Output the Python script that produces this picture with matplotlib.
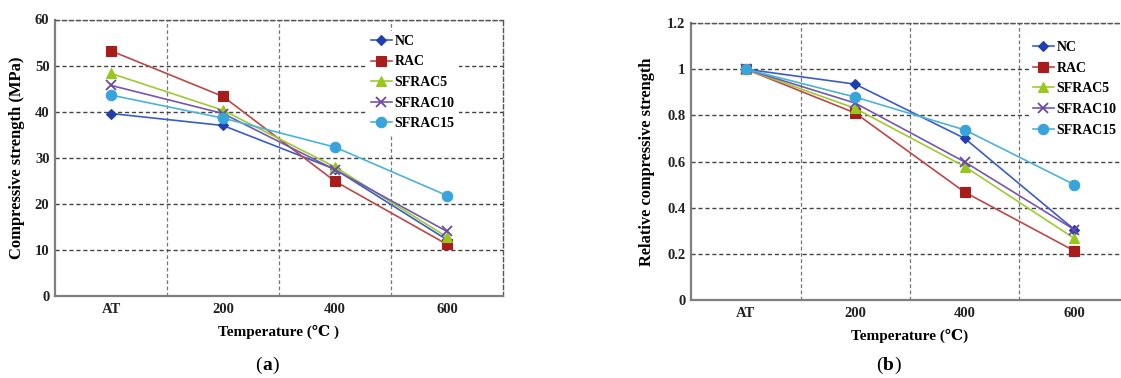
import matplotlib.pyplot as plt
import numpy as np

# data
categories = ['AT', '200', '400', '600']
series = ['NC', 'RAC', 'SFRAC5', 'SFRAC10', 'SFRAC15']

strength_nc = [39.6, 37.0, 27.5, 12.2]
strength_rac = [53.2, 43.3, 24.9, 11.2]
strength_sf5 = [48.3, 40.3, 28.0, 12.8]
strength_sf10 = [45.7, 39.6, 27.4, 14.0]
strength_sf15 = [43.6, 38.6, 32.3, 21.8]

rel_nc = [1.0, 0.935, 0.70, 0.305]
rel_rac = [1.0, 0.81, 0.467, 0.213]
rel_sf5 = [1.0, 0.83, 0.578, 0.267]
rel_sf10 = [1.0, 0.853, 0.598, 0.305]
rel_sf15 = [1.0, 0.879, 0.737, 0.50]

line_colors = ['#3a5cc8', '#c04646', '#9ccc2e', '#7656b0', '#4ab4d8']
marker_colors = ['#1f3fb0', '#a81c1c', '#98c81a', '#6a48a8', '#38a4dc']
markers = ['D', 's', '^', 'x', 'o']
msizes = [5, 7, 7, 7, 7.5]

serif = ['Liberation Serif', 'DejaVu Serif', 'Noto Sans CJK SC']
plt.rcParams['font.family'] = serif

fig = plt.figure(figsize=(11.21, 3.78), dpi=100)
ax1 = fig.add_axes([55 / 1121, 82 / 378, 448 / 1121, 276.5 / 378])
ax2 = fig.add_axes([691 / 1121, 78 / 378, 438 / 1121, 277 / 378])


def style(ax, ymax, ystep, yticklabels):
    ax.set_xlim(-0.5, 3.5)
    ax.set_ylim(0, ymax)
    ax.set_xticks(range(len(categories)))
    ax.set_xticklabels(categories, fontsize=10.5, fontweight='bold', color='#222')
    ax.set_xticks([0.5, 1.5, 2.5], minor=True)
    yt = np.arange(0, ymax + ystep / 2, ystep)
    ax.set_yticks(yt)
    ax.set_yticklabels(yticklabels, fontsize=10.5, fontweight='bold', color='#222')
    ax.tick_params(which='both', length=0)
    ax.tick_params(axis='y', pad=4)
    ax.tick_params(axis='x', pad=5)
    ax.grid(axis='y', which='major', color='#444444', linestyle=(0, (3, 2)), linewidth=1.0)
    ax.grid(axis='x', which='minor', color='#777777', linestyle=(0, (3, 2)), linewidth=0.9)
    ax.set_axisbelow(True)
    for s in ['left', 'bottom']:
        ax.spines[s].set_color('#7f7f7f')
        ax.spines[s].set_linewidth(1.6)
    for s in ['top', 'right']:
        ax.spines[s].set_color('#555555')
        ax.spines[s].set_linestyle((0, (3, 2)))
        ax.spines[s].set_linewidth(1.0)


x = np.arange(len(categories))

left_data = [strength_nc, strength_rac, strength_sf5, strength_sf10, strength_sf15]
right_data = [rel_nc, rel_rac, rel_sf5, rel_sf10, rel_sf15]

for ax, data in [(ax1, left_data), (ax2, right_data)]:
    for name, vals, lc, mc, m, ms in zip(series, data, line_colors, marker_colors, markers, msizes):
        ax.plot(x, vals, color=lc, linewidth=1.2, marker=m, markersize=ms,
                markerfacecolor=mc, markeredgecolor=mc, markeredgewidth=1.3 if m == 'x' else 0.8,
                label=name, zorder=3)

style(ax1, 60, 10, ['0', '10', '20', '30', '40', '50', '60'])
style(ax2, 1.2, 0.2, ['0', '0.2', '0.4', '0.6', '0.8', '1', '1.2'])

ax1.set_ylabel('Compressive strength (MPa)', fontsize=12, fontweight='bold', labelpad=7)
ax1.set_xlabel('Temperature (℃ )', fontsize=11, fontweight='bold', labelpad=6)
ax2.set_ylabel('Relative compressive strength', fontsize=11.8, fontweight='bold', labelpad=9)
ax2.set_xlabel('Temperature (℃)', fontsize=11, fontweight='bold', labelpad=6)

for ax, anchor in [(ax1, (0.68, 0.985)), (ax2, (0.755, 0.975))]:
    leg = ax.legend(loc='upper left', bbox_to_anchor=anchor,
                    prop={'family': serif, 'weight': 'bold', 'size': 10},
                    frameon=True, fancybox=False, borderpad=0.3,
                    handlelength=1.5, handletextpad=0.2, labelspacing=0.55)
    leg.get_frame().set_facecolor('white')
    leg.get_frame().set_edgecolor('none')
    leg.get_frame().set_alpha(1)

fig.text(262 / 1121, 1 - 365 / 378, '(', fontsize=14, ha='right', va='center')
fig.text(262 / 1121, 1 - 365 / 378, 'a', fontsize=14, fontweight='bold', ha='left', va='center')
fig.text(262 / 1121 + 0.0095, 1 - 365 / 378, ')', fontsize=14, ha='left', va='center')

fig.text(883 / 1121, 1 - 365 / 378, '(', fontsize=14, ha='right', va='center')
fig.text(883 / 1121, 1 - 365 / 378, 'b', fontsize=14, fontweight='bold', ha='left', va='center')
fig.text(883 / 1121 + 0.0098, 1 - 365 / 378, ')', fontsize=14, ha='left', va='center')

fig.savefig('out.png', dpi=100)
